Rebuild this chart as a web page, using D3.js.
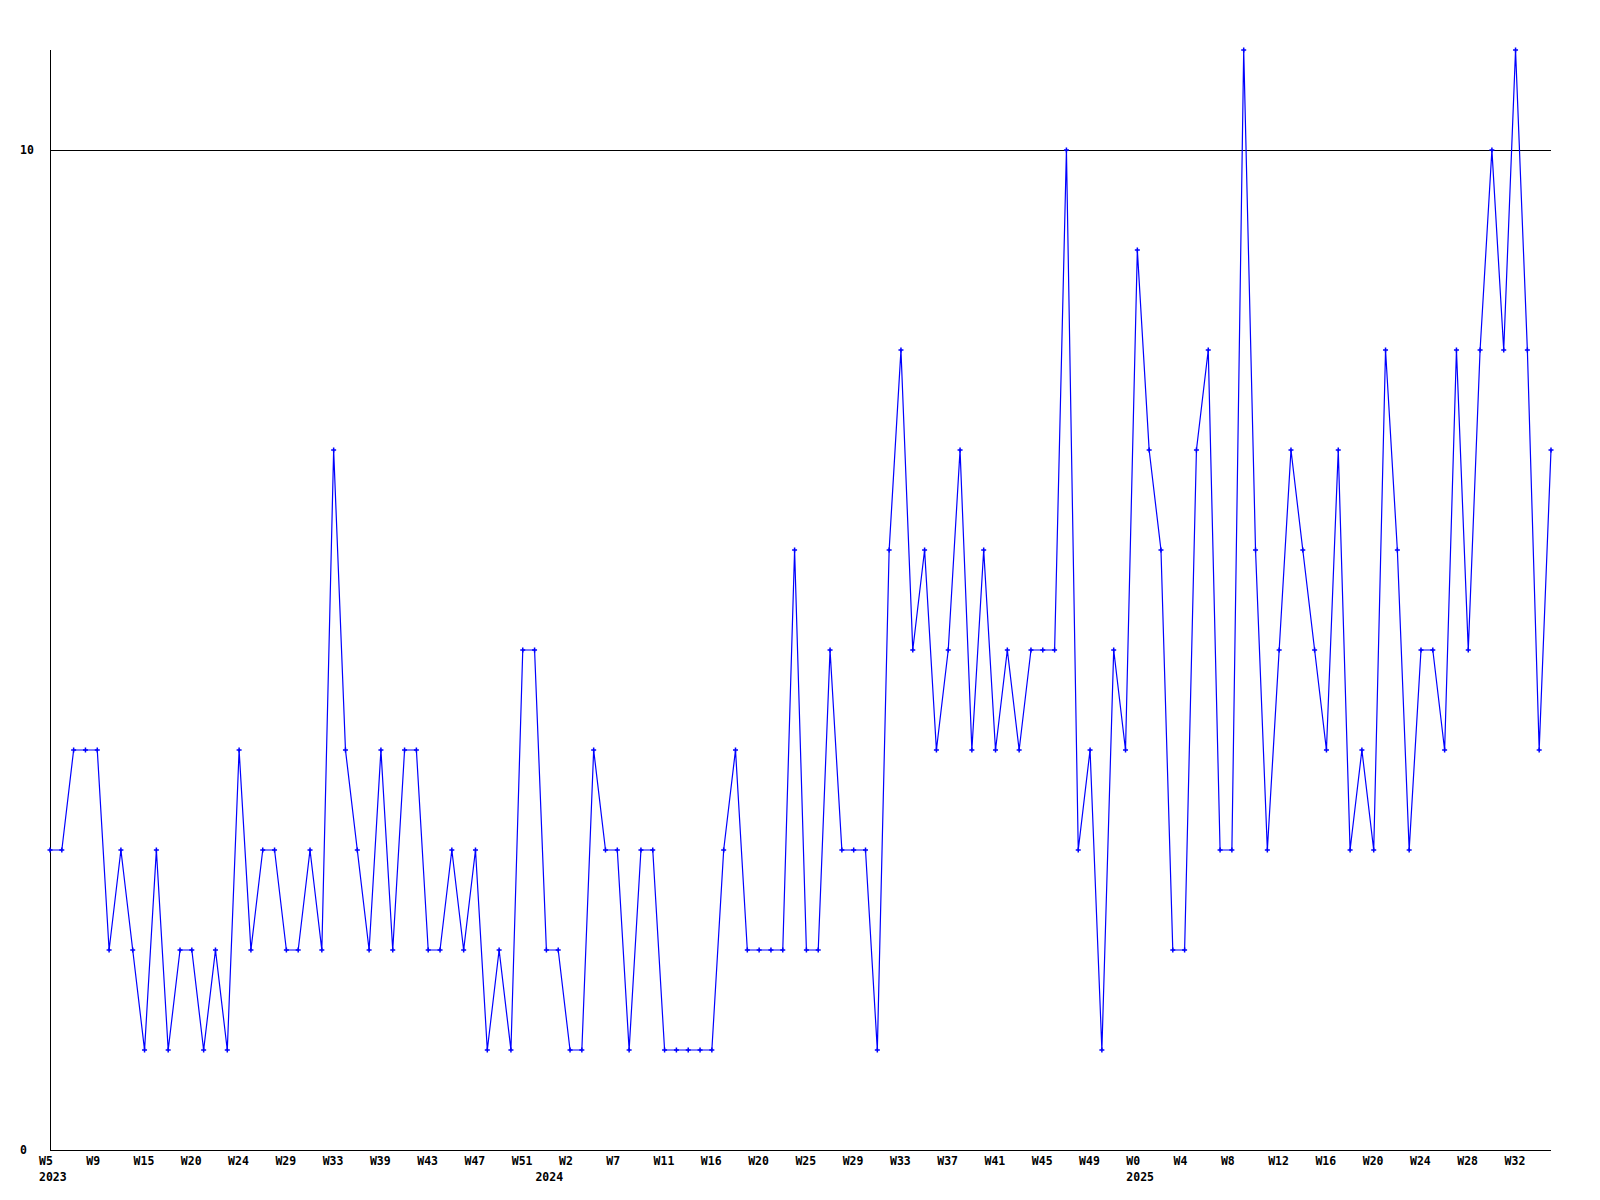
<!DOCTYPE html>
<html>
<head>
<meta charset="utf-8">
<script src="https://cdn.jsdelivr.net/npm/d3@7/dist/d3.min.js"></script>
<style>
  html, body { margin: 0; padding: 0; background: #ffffff; }
  svg { display: block; }
  text { font-family: "DejaVu Sans Mono", "Liberation Mono", monospace; font-weight: bold; font-size: 11.5px; fill: #000; }
</style>
</head>
<body>
<svg id="chart" width="1600" height="1200"></svg>
<script>
// ---- data ----
const values = [
  3,3,4,4,4,2,3,2,1,3,
  1,2,2,1,2,1,4,2,3,3,
  2,2,3,2,7,4,3,2,4,2,
  4,4,2,2,3,2,3,1,2,1,
  5,5,2,2,1,1,4,3,3,1,
  3,3,1,1,1,1,1,3,4,2,
  2,2,2,6,2,2,5,3,3,3,
  1,6,8,5,6,4,5,7,4,6,
  4,5,4,5,5,5,10,3,4,1,
  5,4,9,7,6,2,2,7,8,3,
  3,11,6,3,5,7,6,5,4,7,
  3,4,3,8,6,3,5,5,4,8,
  5,8,10,8,11,8,4,7
];
const weekLabels = ["W5","W9","W15","W20","W24","W29","W33","W39","W43","W47","W51",
  "W2","W7","W11","W16","W20","W25","W29","W33","W37","W41","W45","W49",
  "W0","W4","W8","W12","W16","W20","W24","W28","W32"];
const yearLabels = ["2023", "2024", "2025"];
const yearStartIndex = [0, 42, 92];
const yTickValues = [0, 10];
const yMax = 11;
const pointsPerLabel = 4;

// ---- layout ----
const mLeft = 50, mRight = 1551, mTop = 50, mBottom = 1150;
const svg = d3.select("#chart");

const x = d3.scaleLinear().domain([0, values.length - 1]).range([mLeft, mRight]);
const y = d3.scaleLinear().domain([0, yMax]).range([mBottom, mTop]);

// gridlines
svg.append("g").selectAll("line").data(yTickValues.filter(v => v > 0)).join("line")
  .attr("x1", mLeft).attr("x2", mRight)
  .attr("y1", d => Math.round(y(d)) + 0.5).attr("y2", d => Math.round(y(d)) + 0.5)
  .attr("stroke", "#000").attr("stroke-width", 1).attr("shape-rendering", "crispEdges");

// axis lines
svg.append("line").attr("x1", mLeft + 0.5).attr("x2", mLeft + 0.5).attr("y1", mTop).attr("y2", mBottom + 0.5)
  .attr("stroke", "#000").attr("shape-rendering", "crispEdges");
svg.append("line").attr("x1", mLeft).attr("x2", mRight).attr("y1", mBottom + 0.5).attr("y2", mBottom + 0.5)
  .attr("stroke", "#000").attr("shape-rendering", "crispEdges");

// y labels
svg.append("g").selectAll("text").data(yTickValues).join("text")
  .attr("x", 20).attr("y", d => y(d) + 4)
  .attr("text-anchor", "start")
  .text(d => d);

// x labels
const xl = svg.append("g");
xl.selectAll("text.wk").data(weekLabels).join("text")
  .attr("class", "wk")
  .attr("x", (d, i) => x(i * pointsPerLabel) - 11)
  .attr("y", mBottom + 15)
  .attr("text-anchor", "start")
  .text(d => d);
xl.selectAll("text.yr").data(yearLabels).join("text")
  .attr("class", "yr")
  .attr("x", (d, i) => x(yearStartIndex[i]) - 11)
  .attr("y", mBottom + 31)
  .attr("text-anchor", "start")
  .text(d => d);

// line
const line = d3.line().x((d, i) => x(i)).y(d => y(d));
svg.append("path").datum(values)
  .attr("d", line)
  .attr("fill", "none")
  .attr("stroke", "#0000ff")
  .attr("stroke-width", 1.2);

// markers
svg.append("g").selectAll("path").data(values).join("path")
  .attr("transform", (d, i) => `translate(${x(i)},${y(d)})`)
  .attr("d", "M-2.5,0H2.5M0,-2.5V2.5")
  .attr("stroke", "#0000ff")
  .attr("stroke-width", 1.5)
  .attr("fill", "none");
</script>
</body>
</html>
